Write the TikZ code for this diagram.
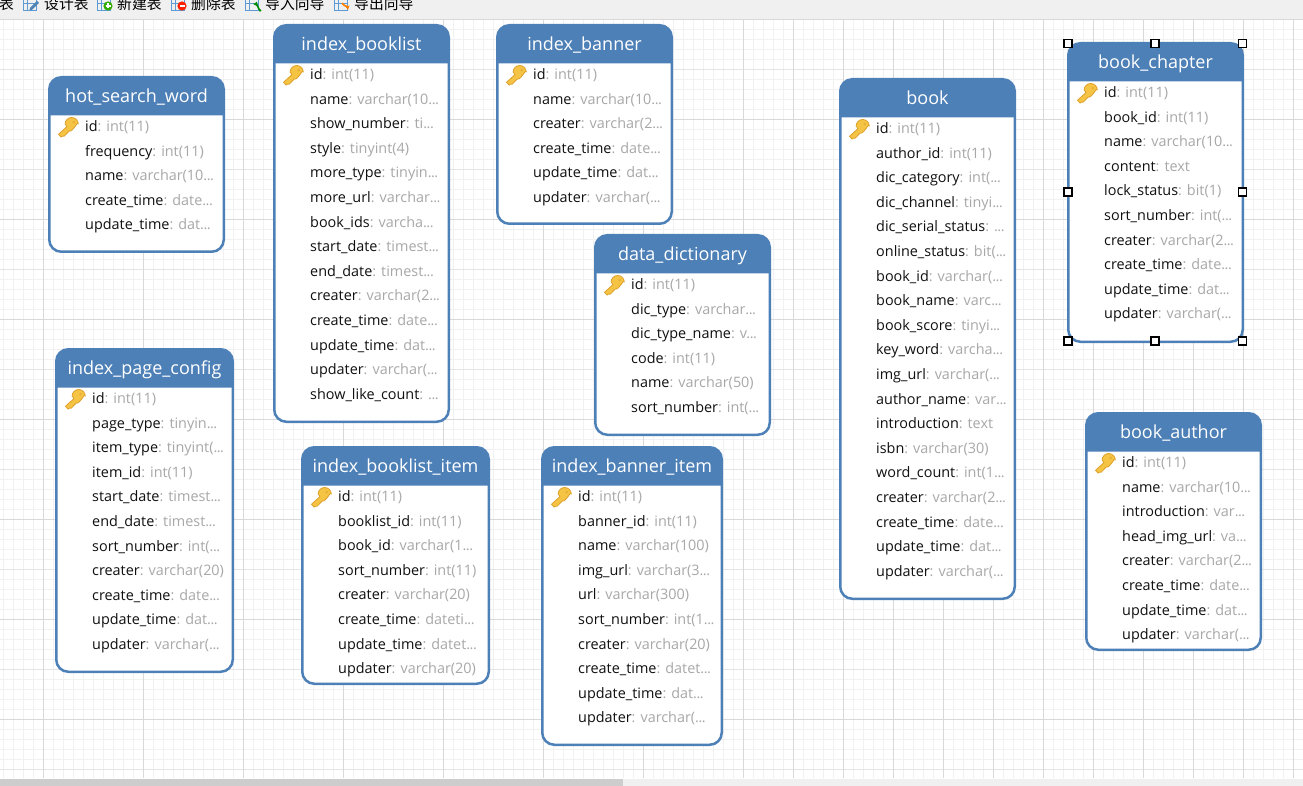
\documentclass[tikz,border=0pt]{standalone}
\usepackage{fontspec}
\usetikzlibrary{arrows.meta}
\setmainfont{Open Sans}
\newfontfamily\cjkfont{Noto Sans CJK SC}
\definecolor{tablehead}{HTML}{4D80B7}
\definecolor{fieldname}{HTML}{101010}
\definecolor{fieldtype}{HTML}{A8A8A8}
\definecolor{gridminor}{HTML}{F1F1F1}
\definecolor{gridmid}{HTML}{E4E4E4}
\definecolor{gridmajor}{HTML}{D9D9D9}
\definecolor{barface}{HTML}{F0F0F0}
\definecolor{thumbface}{HTML}{CDCDCD}
\definecolor{keygold}{HTML}{F6C445}
\definecolor{keyedge}{HTML}{DDA02A}
\definecolor{iconblue}{HTML}{5C9BD4}
\newcommand{\more}{.\kern-.5pt.\kern-.5pt.}
\tikzset{
  tablebox/.style={draw=tablehead,fill=white,line width=2.5pt,rounded corners=12pt,inner sep=0pt},
  tabletitle/.style={text=white,font=\fontsize{18}{20}\selectfont,anchor=base,inner sep=0pt},
  fieldrow/.style={anchor=base west,inner sep=0pt,text=fieldtype,font=\fontsize{14.4}{16}\selectfont},
  handle/.style={draw=black,fill=white,line width=1.4pt,minimum size=8pt,inner sep=0pt,rectangle},
  toolbartext/.style={anchor=base west,inner sep=0pt,text=black,font=\cjkfont\fontsize{14.8}{16}\selectfont},
  tableicon/.style={draw=iconblue,line width=0.9pt},
}
% one database table: name, left, right, top, bottom, title, field list
\newcommand{\dbtable}[7]{%
  \node[tablebox,minimum width=#3-#2-2.5pt,minimum height=#5-#4-1.5pt] (#1) at ({(#2+#3)/2},{(#4+#5)/2+.5}) {};
  \fill[tablehead] (#2+1,#4+39.5) [rounded corners=11.5pt] -- (#2+1,#4+1) -- (#3-1,#4+1) [sharp corners] -- (#3-1,#4+39.5) -- cycle;
  \node[tabletitle] (#1-title) at ({(#2+#3)/2},#4+26.7) {#6};
  \keyicon{#2+23.5}{#4+48.5}
  \foreach \fname/\ftype [count=\rownum from 0] in {#7} {
    \node[fieldrow] (#1-\rownum) at (#2+37,#4+55.5+24.6*\rownum) {\textcolor{fieldname}{\fname}: \ftype};
  }
}
% key glyph beside the primary key field; head centre given
\newcommand{\keyicon}[2]{%
  \begin{scope}[shift={(#1,#2)}]
    \fill[keygold,draw=keyedge,line width=0.8pt,line join=round]
      (-4.6,2.2) -- (-13,9.8) -- (-10.4,12.6) -- (-8.6,11.4) -- (-7.4,11.8) -- (-2.4,6.6)
      to[out=-15,in=95] (6.8,-0.4) arc[start angle=0,end angle=-180,radius=6.6] to[out=-90,in=70] cycle;
    \fill[keyedge!55!keygold] (2.2,-2.4) circle[radius=1.5];
  \end{scope}
}
% small table glyph from the toolbar, cut by the top edge
\newcommand{\toolicon}[1]{%
  \draw[tableicon] (#1,-2) rectangle (#1+13,10);
  \draw[tableicon,line width=0.7pt] (#1,3.5) -- (#1+13,3.5) (#1+4.5,-2) -- (#1+4.5,10);
}
\begin{document}
\begin{tikzpicture}[x=1pt,y=-1pt]
\useasboundingbox (0,0) rectangle (1303,786);
\fill[white] (0,0) rectangle (1303,786);
% canvas grid
\foreach \gx in {3,13,...,1303} \draw[gridminor,line width=1pt] (\gx+.5,19) -- (\gx+.5,778);
\foreach \gy in {29,39,...,778} \draw[gridminor,line width=1pt] (0,\gy+.5) -- (1303,\gy+.5);
\foreach \gy in {69,169,...,778} \draw[gridmid,line width=1pt] (0,\gy+.5) -- (1303,\gy+.5);
\foreach \gx in {793,893,...,1303} \draw[gridmajor,line width=1pt] (\gx+.5,19) -- (\gx+.5,778);
\foreach \gy in {19,119,...,778} \draw[gridmajor,line width=1pt] (0,\gy+.5) -- (1303,\gy+.5);
\foreach \gx in {43,143,...,1303} \draw[gridmajor,line width=1pt] (\gx+.5,19) -- (\gx+.5,778);

% toolbar strip and scrollbar
\fill[barface] (0,0) rectangle (1303,19);
\fill[barface] (0,778.5) rectangle (1303,786);
\fill[thumbface] (0,778.5) rectangle (623,786);
\node[toolbartext] (tb0) at (-1,9.7) {表};
\toolicon{23}
\fill[iconblue!85!black] (30,8) -- (37,1) -- (39,3) -- (32,10) -- (29.5,10.5) -- cycle;
\node[toolbartext] (tb1) at (44,9.7) {设计表};
\toolicon{97}
\fill[green!60!black!80!yellow] (108,6) circle[radius=4.6];
\draw[white,line width=1.2pt] (105.5,6) -- (110.5,6) (108,3.5) -- (108,8.5);
\node[toolbartext] (tb2) at (117,9.7) {新建表};
\toolicon{171}
\fill[red!75!orange] (182,6) circle[radius=4.6];
\draw[white,line width=1.4pt] (179.5,6) -- (184.5,6);
\node[toolbartext] (tb3) at (191,9.7) {删除表};
\toolicon{245}
\draw[green!55!black,line width=1.6pt,-{Latex[length=4pt,width=5pt]}] (261,10) to[out=-100,in=0] (253,4);
\node[toolbartext] (tb4) at (265,9.7) {导入向导};
\toolicon{334}
\draw[orange,line width=1.6pt,-{Latex[length=4pt,width=5pt]}] (342,3) to[out=-60,in=100] (348,10);
\node[toolbartext] (tb5) at (354,9.7) {导出向导};

\dbtable{hotsearch}{48}{225}{76}{252}{hot\_search\_word}{
  id/int(11),frequency/int(11),name/varchar(10\more,create\_time/date\more,update\_time/dat\more}
\dbtable{booklist}{273}{450}{24}{422}{index\_booklist}{
  id/int(11),name/varchar(10\more,show\_number/ti\more,style/tinyint(4),more\_type/tinyin\more,
  more\_url/varchar\more,book\_ids/varcha\more,start\_date/timest\more,end\_date/timest\more,
  creater/varchar(2\more,create\_time/date\more,update\_time/dat\more,updater/varchar(\more,
  show\_like\_count/\more}
\dbtable{banner}{496}{673}{24}{224}{index\_banner}{
  id/int(11),name/varchar(10\more,creater/varchar(2\more,create\_time/date\more,
  update\_time/dat\more,updater/varchar(\more}
\dbtable{dictionary}{594}{771}{234}{435}{data\_dictionary}{
  id/int(11),dic\_type/varchar\more,dic\_type\_name/v\more,code/int(11),name/varchar(50),
  sort\_number/int(\more}
\dbtable{pageconfig}{55}{234}{348}{672}{index\_page\_config}{
  id/int(11),page\_type/tinyin\more,item\_type/tinyint(\more,item\_id/int(11),
  start\_date/timest\more,end\_date/timest\more,sort\_number/int(\more,creater/varchar(20),
  create\_time/date\more,update\_time/dat\more,updater/varchar(\more}
\dbtable{booklistitem}{301}{490}{446}{684}{index\_booklist\_item}{
  id/int(11),booklist\_id/int(11),book\_id/varchar(1\more,sort\_number/int(11),
  creater/varchar(20),create\_time/dateti\more,update\_time/datet\more,updater/varchar(20)}
\dbtable{banneritem}{541}{723}{446}{745}{index\_banner\_item}{
  id/int(11),banner\_id/int(11),name/varchar(100),img\_url/varchar(3\more,url/varchar(300),
  sort\_number/int(1\more,creater/varchar(20),create\_time/datet\more,update\_time/dat\more,
  updater/varchar(\more}
\dbtable{book}{839}{1016}{78}{599}{book}{
  id/int(11),author\_id/int(11),dic\_category/int(\more,dic\_channel/tinyi\more,
  dic\_serial\_status/\more,online\_status/bit(\more,book\_id/varchar(\more,book\_name/varc\more,
  book\_score/tinyi\more,key\_word/varcha\more,img\_url/varchar(\more,author\_name/var\more,
  introduction/text,isbn/varchar(30),word\_count/int(1\more,creater/varchar(2\more,
  create\_time/date\more,update\_time/dat\more,updater/varchar(\more}
\dbtable{chapter}{1067}{1244}{42}{342}{book\_chapter}{
  id/int(11),book\_id/int(11),name/varchar(10\more,content/text,lock\_status/bit(1),
  sort\_number/int(\more,creater/varchar(2\more,create\_time/date\more,update\_time/dat\more,
  updater/varchar(\more}
\dbtable{author}{1085}{1262}{412}{650}{book\_author}{
  id/int(11),name/varchar(10\more,introduction/var\more,head\_img\_url/va\more,
  creater/varchar(2\more,create\_time/date\more,update\_time/dat\more,updater/varchar(\more}

% selection handles around the active table
\foreach \hx/\hy [count=\hn] in {1068/43.3,1155/43.3,1242.5/43.3,1068/192,1242.5/192,1068/341,1155/341,1242.5/341}
  \node[handle] (grip\hn) at (\hx,\hy) {};
\end{tikzpicture}
\end{document}
